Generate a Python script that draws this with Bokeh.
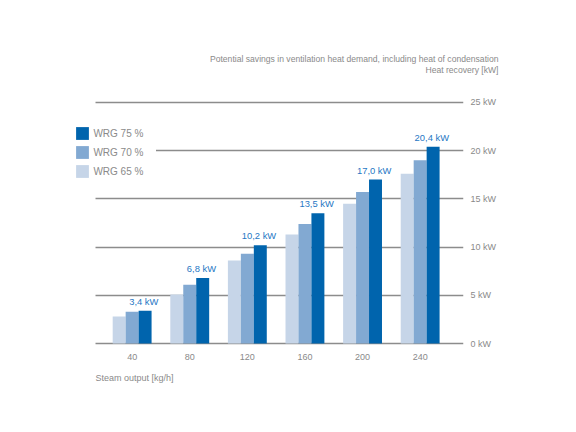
from bokeh.plotting import figure
from bokeh.models import (ColumnDataSource, Range1d, LinearAxis, FixedTicker, Title,
                          Legend, LegendItem, Grid)
from bokeh.transform import dodge
from bokeh.embed import file_html
from bokeh.resources import INLINE

# ---- data ----
steam = [40, 80, 120, 160, 200, 240]
wrg65 = [2.8, 5.1, 8.6, 11.3, 14.5, 17.6]
wrg70 = [3.3, 6.1, 9.3, 12.4, 15.7, 19.0]
wrg75 = [3.4, 6.8, 10.2, 13.5, 17.0, 20.4]
value_labels = ["3,4  kW", "6,8  kW", "10,2  kW", "13,5  kW", "17,0  kW", "20,4  kW"]
y_ticks = [0, 5, 10, 15, 20, 25]
y_tick_labels = ["0  kW", "5  kW", "10  kW", "15  kW", "20  kW", "25  kW"]
series_names = ["WRG 75 %", "WRG 70 %", "WRG 65 %"]
title_lines = ["Potential savings in ventilation heat demand, including heat of condensation",
               "Heat recovery [kW]"]
x_title = "Steam output [kg/h]"

C_LIGHT = "#c6d5e8"
C_MID = "#82a9d2"
C_DARK = "#0064ad"
C_LABEL = "#1f77c4"
C_GRAY = "#8a8a8a"
C_GRID = "#8c8c8c"
FONT = "Liberation Sans"

src = ColumnDataSource(dict(steam=steam, w65=wrg65, w70=wrg70, w75=wrg75, lab=value_labels))

X0, X1 = -2.8, 270.1
p = figure(width=560, height=416, output_backend="svg", toolbar_location=None,
           x_range=Range1d(X0, X1), y_range=Range1d(-0.3, 25.5),
           min_border_left=70, min_border_right=97, min_border_top=97, min_border_bottom=70)
p.outline_line_color = None
p.background_fill_color = "white"
p.border_fill_color = "white"

# axes
p.xaxis.ticker = FixedTicker(ticks=steam)
p.xaxis.axis_line_color = None
p.xaxis.major_tick_line_color = None
p.xaxis.minor_tick_line_color = None
p.xaxis.major_tick_out = 0
p.xaxis.major_tick_in = 0
p.xaxis.major_label_text_color = C_GRAY
p.xaxis.major_label_text_font = FONT
p.xaxis.major_label_text_font_size = "9px"
p.xaxis.major_label_standoff = 7
p.xgrid.visible = False

p.yaxis.visible = False
p.ygrid.visible = False
yax = LinearAxis(ticker=FixedTicker(ticks=y_ticks),
                 major_label_overrides={t: s for t, s in zip(y_ticks, y_tick_labels)})
yax.axis_line_color = None
yax.major_tick_line_color = None
yax.minor_tick_line_color = None
yax.major_tick_out = 0
yax.major_tick_in = 0
yax.major_label_text_color = C_GRAY
yax.major_label_text_font = FONT
yax.major_label_text_font_size = "9px"
yax.major_label_standoff = 7
p.add_layout(yax, "right")

grid = Grid(dimension=1, ticker=FixedTicker(ticks=y_ticks), cross_bounds=(14.5, X1),
            grid_line_color=C_GRID, grid_line_width=1.4)
p.add_layout(grid)

# bars
bw = 9.0
r65 = p.vbar(x=dodge("steam", -bw, range=p.x_range), top="w65", bottom=0, width=bw,
             source=src, fill_color=C_LIGHT, line_color=None)
r70 = p.vbar(x=dodge("steam", 0, range=p.x_range), top="w70", bottom=0, width=bw,
             source=src, fill_color=C_MID, line_color=None)
r75 = p.vbar(x=dodge("steam", bw, range=p.x_range), top="w75", bottom=0, width=bw,
             source=src, fill_color=C_DARK, line_color=None)

p.text(x=dodge("steam", bw, range=p.x_range), y="w75", text="lab", source=src,
       text_align="center", text_baseline="bottom", y_offset=-4,
       text_color=C_LABEL, text_font={"value": FONT}, text_font_size={"value": "9.4px"})

# legend
legend = Legend(items=[LegendItem(label=series_names[0], renderers=[r75]),
                       LegendItem(label=series_names[1], renderers=[r70]),
                       LegendItem(label=series_names[2], renderers=[r65])],
                location=(4.4, 166.8), orientation="vertical",
                glyph_width=16, glyph_height=16, spacing=3, padding=0, margin=0,
                label_standoff=3, label_width=63, label_height=16,
                label_text_font=FONT, label_text_font_size="10px", label_text_color=C_GRAY,
                border_line_color=None, background_fill_color="white", background_fill_alpha=1.0)
p.add_layout(legend, "center")

# two-line title, right aligned
p.add_layout(Title(text="\n".join(title_lines), align="right", offset=-35, standoff=45,
                   text_align="right", text_line_height=1.1,
                   text_color=C_GRAY, text_font=FONT, text_font_size="8.6px",
                   text_font_style="normal"), "above")
p.add_layout(Title(text=x_title, align="left", offset=25, standoff=16,
                   text_color=C_GRAY, text_font=FONT, text_font_size="9px",
                   text_font_style="normal"), "below")

open("out.html", "w").write(file_html(p, INLINE))
